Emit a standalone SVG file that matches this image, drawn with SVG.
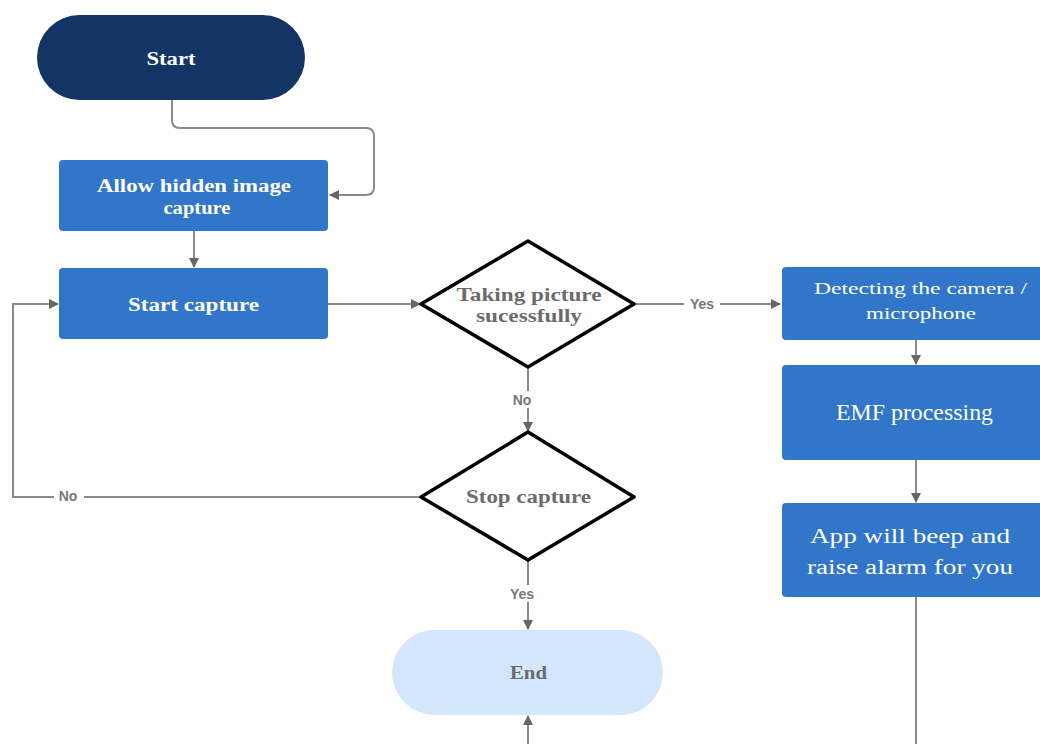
<svg xmlns="http://www.w3.org/2000/svg" width="1040" height="744" viewBox="0 0 1040 744">
<defs>
<marker id="ah" viewBox="0 0 10 10" refX="9" refY="5" markerWidth="11" markerHeight="10" orient="auto" markerUnits="userSpaceOnUse">
<path d="M0,0 L10,5 L0,10 z" fill="#666"/>
</marker>
<style>
.bg{fill:#ffffff}
.conn{fill:none;stroke:#8a8a8a;stroke-width:2}
.box{fill:#3176c9}
.dia{fill:#ffffff;stroke:#000;stroke-width:3.5;stroke-linejoin:round}
.tb{font-family:"Liberation Serif",serif;font-weight:bold;font-size:18px;fill:#ffffff;text-anchor:middle}
.tr{font-family:"Liberation Serif",serif;fill:#ffffff;text-anchor:middle}
.td{font-family:"Liberation Serif",serif;font-weight:bold;font-size:18px;fill:#6b6b6b;text-anchor:middle}
.lbl{font-family:"Liberation Sans",sans-serif;font-weight:bold;font-size:14px;fill:#777;text-anchor:middle}
.lblbg{fill:#ffffff}
</style>
</defs>
<rect class="bg" x="0" y="0" width="1040" height="744"/>

<g id="connectors">
<path class="conn" d="M172,100 L172,120 Q172,128 180,128 L366,128 Q374,128 374,136 L374,187 Q374,195 366,195 L330,195" marker-end="url(#ah)"/>
<path class="conn" d="M194,231 L194,267" marker-end="url(#ah)"/>
<path class="conn" d="M328,304 L420,304" marker-end="url(#ah)"/>
<path class="conn" d="M634,304 L780,304" marker-end="url(#ah)"/>
<rect class="lblbg" x="684" y="295" width="36" height="18"/>
<text class="lbl" x="702" y="309">Yes</text>
<path class="conn" d="M528,367 L528,431" marker-end="url(#ah)"/>
<rect class="lblbg" x="510" y="391" width="34" height="17"/>
<text class="lbl" x="522" y="404.5">No</text>
<path class="conn" d="M421,497 L13,497 L13,304 L58,304" marker-end="url(#ah)"/>
<rect class="lblbg" x="54" y="488" width="30" height="17"/>
<text class="lbl" x="68" y="500.5">No</text>
<path class="conn" d="M528,560 L528,629" marker-end="url(#ah)"/>
<rect class="lblbg" x="504" y="585" width="36" height="17"/>
<text class="lbl" x="522" y="598.5">Yes</text>
<path class="conn" d="M916,340 L916,364" marker-end="url(#ah)"/>
<path class="conn" d="M916,460 L916,502" marker-end="url(#ah)"/>
<path class="conn" d="M916,597 L916,744"/>
<path class="conn" d="M528,744 L528,716" marker-end="url(#ah)"/>
</g>

<g id="start">
<rect x="37" y="15" width="268" height="85" rx="42.5" fill="#123566"/>
<text class="tb" x="171" y="65" textLength="49" lengthAdjust="spacingAndGlyphs">Start</text>
</g>

<g id="allow">
<rect class="box" x="59" y="160" width="269" height="71" rx="4"/>
<text class="tb" x="194" y="192" textLength="194" lengthAdjust="spacingAndGlyphs">Allow hidden image</text>
<text class="tb" x="197" y="214" textLength="67" lengthAdjust="spacingAndGlyphs">capture</text>
</g>

<g id="startcapture">
<rect class="box" x="59" y="268" width="269" height="71" rx="4"/>
<text class="tb" x="193.5" y="311" textLength="131" lengthAdjust="spacingAndGlyphs">Start capture</text>
</g>

<g id="taking">
<path class="dia" d="M528,241 L634,304 L528,367 L421,304 Z"/>
<text class="td" x="529" y="301" textLength="145" lengthAdjust="spacingAndGlyphs">Taking picture</text>
<text class="td" x="529" y="322" textLength="106" lengthAdjust="spacingAndGlyphs">sucessfully</text>
</g>

<g id="stop">
<path class="dia" d="M528,432 L634,497 L528,560 L421,497 Z"/>
<text class="td" x="528.5" y="503" textLength="125" lengthAdjust="spacingAndGlyphs">Stop capture</text>
</g>

<g id="end">
<rect x="392" y="630" width="271" height="85" rx="42.5" fill="#d4e6fb"/>
<text class="td" x="528.5" y="679" fill="#555" textLength="37" lengthAdjust="spacingAndGlyphs">End</text>
</g>

<g id="detecting">
<rect class="box" x="782" y="267" width="270" height="73" rx="4"/>
<text class="tr" x="920.5" y="294" font-size="17" textLength="213" lengthAdjust="spacingAndGlyphs">Detecting the camera /</text>
<text class="tr" x="921" y="319" font-size="17" textLength="110" lengthAdjust="spacingAndGlyphs">microphone</text>
</g>

<g id="emf">
<rect class="box" x="782" y="365" width="270" height="95" rx="4"/>
<text class="tr" x="914.5" y="420" font-size="23" textLength="157" lengthAdjust="spacingAndGlyphs">EMF processing</text>
</g>

<g id="app">
<rect class="box" x="782" y="503" width="270" height="94" rx="4"/>
<text class="tr" x="910" y="543" font-size="20.5" textLength="200" lengthAdjust="spacingAndGlyphs">App will beep and</text>
<text class="tr" x="910" y="574" font-size="20.5" textLength="206" lengthAdjust="spacingAndGlyphs">raise alarm for you</text>
</g>
</svg>
